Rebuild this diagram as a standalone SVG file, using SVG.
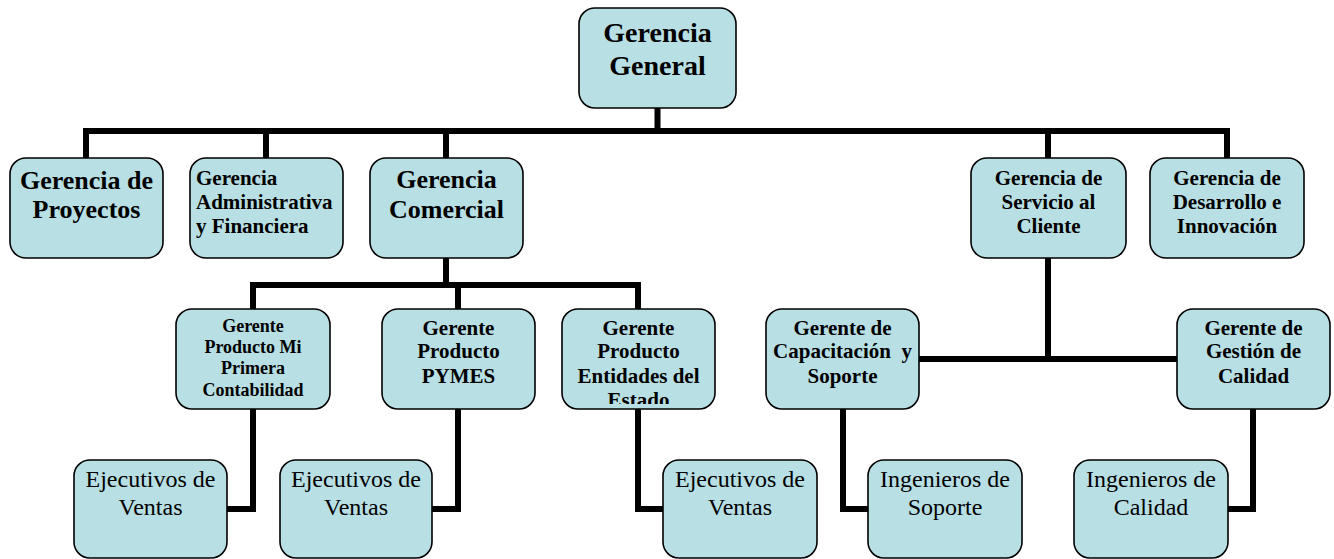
<svg xmlns="http://www.w3.org/2000/svg" width="1334" height="559" viewBox="0 0 1334 559">
<style>
.box{fill:#b8dfe3;stroke:#000;stroke-width:1.6}
.t{font-family:"Liberation Serif","Times New Roman",serif;fill:#000;text-anchor:middle}
.b{font-weight:bold}
.l{text-anchor:start}
.conn{fill:none;stroke:#000;stroke-width:6;stroke-linejoin:miter;stroke-linecap:square}
</style>
<defs>
<clipPath id="clipEnt"><rect x="562" y="309" width="153" height="95"/></clipPath>
</defs>
<rect width="1334" height="559" fill="#fff"/>
<g id="connectors" class="conn">
<path d="M657.5 108V131"/>
<path d="M86 131H1227"/>
<path d="M86 131V158M266 131V158M446 131V158M1048 131V158M1227 131V158"/>
<path d="M446 258V285"/>
<path d="M253 285H638"/>
<path d="M253 285V309M458 285V309M638 285V309"/>
<path d="M1048 258V359"/>
<path d="M919 359H1177"/>
<path d="M253 409V509H227"/>
<path d="M458 409V509H432"/>
<path d="M638 409V509H663"/>
<path d="M843 409V509H868"/>
<path d="M1253 409V509H1228"/>
</g>
<g id="gerencia-general">
<rect class="box" x="579" y="8" width="157" height="100" rx="16"/>
<text class="t b" font-size="28"><tspan x="657.5" y="42">Gerencia</tspan><tspan x="657.5" y="75">General</tspan></text>
</g>
<g id="gerencia-proyectos">
<rect class="box" x="10" y="158" width="153" height="100" rx="16"/>
<text class="t b" font-size="26"><tspan x="86.5" y="189">Gerencia de</tspan><tspan x="86.5" y="218">Proyectos</tspan></text>
</g>
<g id="gerencia-administrativa">
<rect class="box" x="190" y="158" width="153" height="100" rx="16"/>
<text class="t b l" font-size="21"><tspan x="196" y="185">Gerencia</tspan><tspan x="196" y="209">Administrativa</tspan><tspan x="196" y="233">y Financiera</tspan></text>
</g>
<g id="gerencia-comercial">
<rect class="box" x="370" y="158" width="153" height="100" rx="16"/>
<text class="t b" font-size="26"><tspan x="446.5" y="188">Gerencia</tspan><tspan x="446.5" y="218">Comercial</tspan></text>
</g>
<g id="gerencia-servicio">
<rect class="box" x="971" y="158" width="155" height="100" rx="16"/>
<text class="t b" font-size="21"><tspan x="1048.5" y="185">Gerencia de</tspan><tspan x="1048.5" y="209">Servicio al</tspan><tspan x="1048.5" y="233">Cliente</tspan></text>
</g>
<g id="gerencia-desarrollo">
<rect class="box" x="1150" y="158" width="154" height="100" rx="16"/>
<text class="t b" font-size="21"><tspan x="1227" y="185">Gerencia de</tspan><tspan x="1227" y="209">Desarrollo e</tspan><tspan x="1227" y="233">Innovación</tspan></text>
</g>
<g id="gerente-mi-primera">
<rect class="box" x="176" y="309" width="154" height="100" rx="16"/>
<text class="t b" font-size="18"><tspan x="253" y="332">Gerente</tspan><tspan x="253" y="353">Producto Mi</tspan><tspan x="253" y="374">Primera</tspan><tspan x="253" y="396">Contabilidad</tspan></text>
</g>
<g id="gerente-pymes">
<rect class="box" x="382" y="309" width="153" height="100" rx="16"/>
<text class="t b" font-size="21"><tspan x="458.5" y="335">Gerente</tspan><tspan x="458.5" y="358">Producto</tspan><tspan x="458.5" y="383">PYMES</tspan></text>
</g>
<g id="gerente-entidades">
<rect class="box" x="562" y="309" width="153" height="100" rx="16"/>
<text class="t b" font-size="21" clip-path="url(#clipEnt)"><tspan x="638.5" y="335">Gerente</tspan><tspan x="638.5" y="358">Producto</tspan><tspan x="638.5" y="383">Entidades del</tspan><tspan x="638.5" y="407">Estado</tspan></text>
</g>
<g id="gerente-capacitacion">
<rect class="box" x="766" y="309" width="153" height="100" rx="16"/>
<text class="t b" font-size="21"><tspan x="842.5" y="335">Gerente de</tspan><tspan x="842.5" y="358">Capacitación&#160; y</tspan><tspan x="842.5" y="383">Soporte</tspan></text>
</g>
<g id="gerente-calidad">
<rect class="box" x="1177" y="309" width="153" height="100" rx="16"/>
<text class="t b" font-size="21"><tspan x="1253.5" y="335">Gerente de</tspan><tspan x="1253.5" y="358">Gestión de</tspan><tspan x="1253.5" y="383">Calidad</tspan></text>
</g>
<g id="ejecutivos-1">
<rect class="box" x="74" y="460" width="153" height="98" rx="16"/>
<text class="t" font-size="24"><tspan x="150.5" y="487">Ejecutivos de</tspan><tspan x="150.5" y="515">Ventas</tspan></text>
</g>
<g id="ejecutivos-2">
<rect class="box" x="280" y="460" width="152" height="98" rx="16"/>
<text class="t" font-size="24"><tspan x="356" y="487">Ejecutivos de</tspan><tspan x="356" y="515">Ventas</tspan></text>
</g>
<g id="ejecutivos-3">
<rect class="box" x="663" y="460" width="154" height="98" rx="16"/>
<text class="t" font-size="24"><tspan x="740" y="487">Ejecutivos de</tspan><tspan x="740" y="515">Ventas</tspan></text>
</g>
<g id="ingenieros-soporte">
<rect class="box" x="868" y="460" width="154" height="98" rx="16"/>
<text class="t" font-size="24"><tspan x="945" y="487">Ingenieros de</tspan><tspan x="945" y="515">Soporte</tspan></text>
</g>
<g id="ingenieros-calidad">
<rect class="box" x="1074" y="460" width="154" height="98" rx="16"/>
<text class="t" font-size="24"><tspan x="1151" y="487">Ingenieros de</tspan><tspan x="1151" y="515">Calidad</tspan></text>
</g>
</svg>
